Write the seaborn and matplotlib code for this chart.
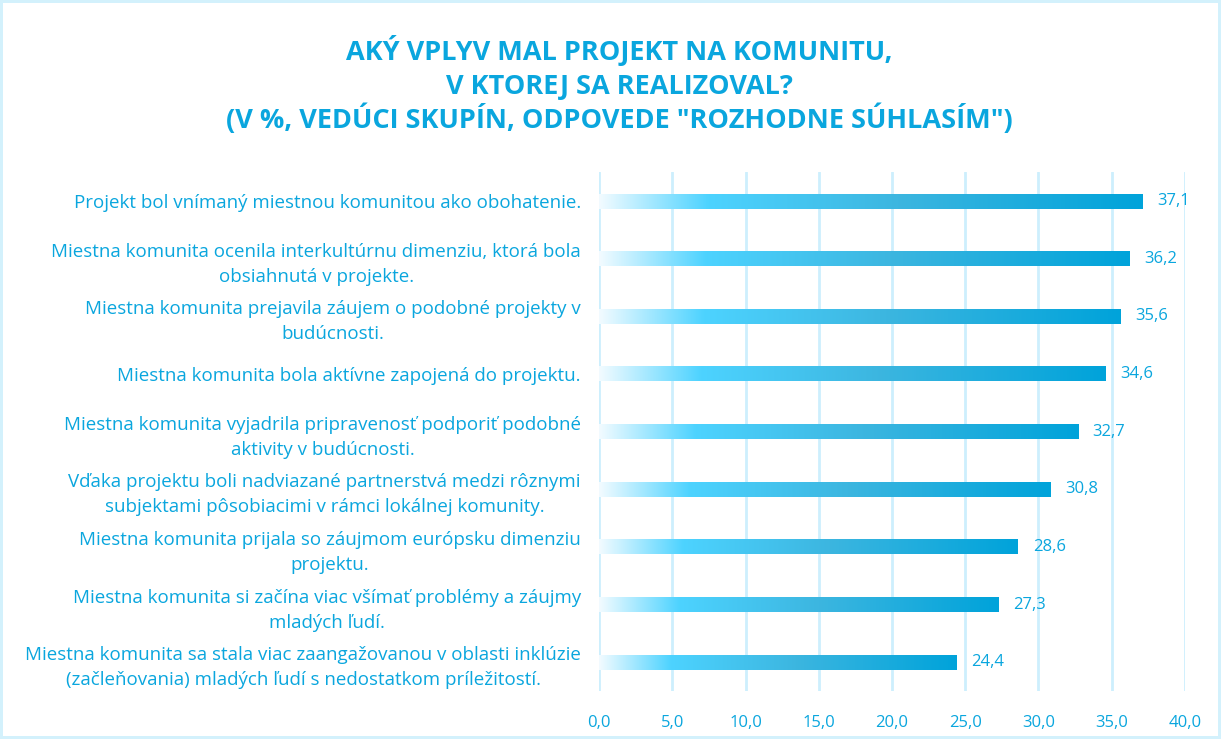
import numpy as np
import pandas as pd
import seaborn as sns
import matplotlib.pyplot as plt
from matplotlib.colors import LinearSegmentedColormap

# data (top to bottom)
labels = [
    "Projekt bol vnímaný miestnou komunitou ako obohatenie.",
    "Miestna komunita ocenila interkultúrnu dimenziu, ktorá bola\nobsiahnutá v projekte.",
    "Miestna komunita prejavila záujem o podobné projekty v\nbudúcnosti.",
    "Miestna komunita bola aktívne zapojená do projektu.",
    "Miestna komunita vyjadrila pripravenosť podporiť podobné\naktivity v budúcnosti.",
    "Vďaka projektu boli nadviazané partnerstvá medzi rôznymi\nsubjektami pôsobiacimi v rámci lokálnej komunity.",
    "Miestna komunita prijala so záujmom európsku dimenziu\nprojektu.",
    "Miestna komunita si začína viac všímať problémy a záujmy\nmladých ľudí.",
    "Miestna komunita sa stala viac zaangažovanou v oblasti inklúzie\n(začleňovania) mladých ľudí s nedostatkom príležitostí.",
]
values = [37.1, 36.2, 35.6, 34.6, 32.7, 30.8, 28.6, 27.3, 24.4]
xticks = [0, 5, 10, 15, 20, 25, 30, 35, 40]

title_lines = ['AKÝ VPLYV MAL PROJEKT NA KOMUNITU,', 'V KTOREJ SA REALIZOVAL?',
               '(V %, VEDÚCI SKUPÍN, ODPOVEDE "ROZHODNE SÚHLASÍM")']

blue = "#0AA6DE"
gridc = "#CDEFFD"

sns.set_style("white")
plt.rcParams['font.family'] = ['Open Sans', 'DejaVu Sans']

df = pd.DataFrame({"label": labels, "value": values})

fig = plt.figure(figsize=(12.21, 7.39), dpi=100)
fig.patch.set_edgecolor("#D3F1FC")
fig.patch.set_linewidth(3)
ax = fig.add_axes([0.4906, 0.065, 0.4799, 0.702])

sns.barplot(data=df, x="value", y="label", orient="h", color=blue,
            width=0.26, ax=ax)

# gradient fill for every bar
cmap = LinearSegmentedColormap.from_list(
    "bar", [(0.0, "#F2FBFF"), (0.2, "#4DD3FF"), (0.55, "#3CB6E0"), (1.0, "#00A3DA")])
grad = np.linspace(0, 1, 256).reshape(1, -1)
for p in ax.patches:
    x0, y0 = p.get_x(), p.get_y()
    w, h = p.get_width(), p.get_height()
    im = ax.imshow(grad, cmap=cmap, aspect="auto", extent=[x0, x0 + w, y0 + h, y0],
                   zorder=3, interpolation="bicubic")
    im.set_clip_path(p)
    p.set_facecolor("none")
    p.set_edgecolor("none")
ax.set_xlim(0, 40)
ax.set_ylim(len(values) - 0.5, -0.5)

for i, v in enumerate(values):
    ax.text(v + 1.0, i, f"{v:.1f}".replace(".", ","), va="center", ha="left",
            color=blue, fontsize=12, zorder=4)

ax.set_xticks(xticks)
ax.set_xticklabels([f"{t:.1f}".replace(".", ",") for t in xticks], color=blue, fontsize=12)
ax.tick_params(axis="x", length=0, pad=17)
ax.tick_params(axis="y", length=0, pad=13)
for t in ax.get_yticklabels():
    t.set_color(blue)
    t.set_fontsize(13.5)
    t.set_multialignment("center")
    t.set_linespacing(1.5)
ax.set_xlabel("")
ax.set_ylabel("")
for s in ax.spines.values():
    s.set_visible(False)
ax.grid(axis="x", color=gridc, linewidth=2, zorder=0)
ax.set_axisbelow(True)

for k, line in enumerate(title_lines):
    fig.text(0.507, 1 - (59.5 + 34.3 * k) / 739, line, ha="center", va="baseline", color=blue,
             fontsize=19.5, fontweight="bold")

fig.savefig("out.png", dpi=100)
